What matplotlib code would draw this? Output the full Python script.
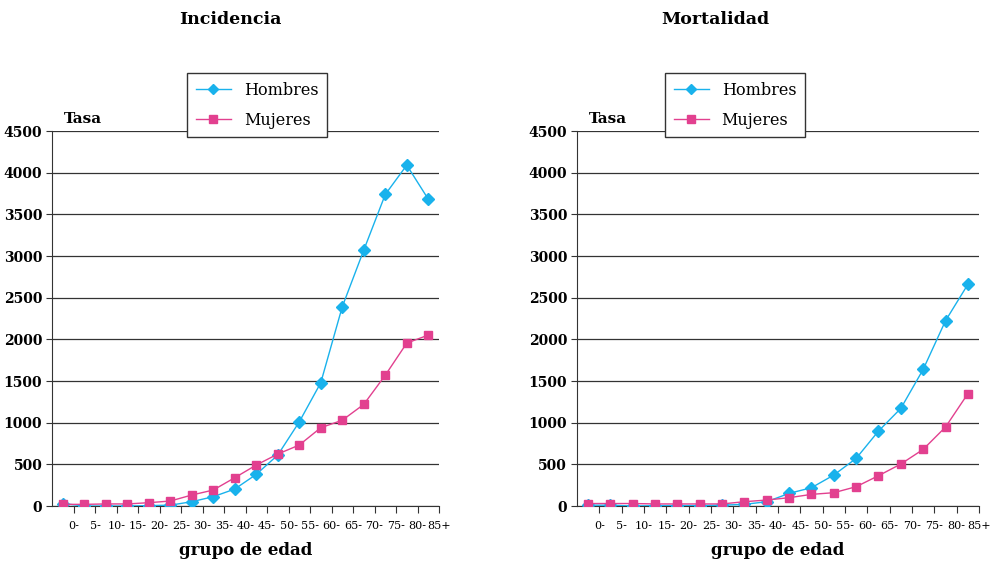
import numpy as np
import matplotlib
matplotlib.use('Agg')
import matplotlib.pyplot as plt

# age groups
grupos = ['0-', '5-', '10-', '15-', '20-', '25-', '30-', '35-', '40-', '45-',
          '50-', '55-', '60-', '65-', '70-', '75-', '80-', '85+']

# incidence rates
inc_hombres = [30, 0, 0, 0, 5, 10, 52, 112, 204, 380, 612, 1010, 1480, 2392,
               3072, 3740, 4092, 3684]
inc_mujeres = [20, 20, 25, 25, 40, 60, 132, 192, 340, 492, 624, 732, 940, 1030,
               1220, 1570, 1956, 2052]

# mortality rates
mort_hombres = [10, 10, 0, 5, 5, 5, 10, 20, 52, 152, 220, 372, 572, 900,
                1172, 1640, 2224, 2660]
mort_mujeres = [30, 30, 30, 25, 25, 25, 25, 52, 72, 100, 140, 160, 232, 364,
                504, 680, 948, 1348]

titulos = ['Incidencia', 'Mortalidad']
yticks = np.arange(0, 4501, 500)

c_h = '#19b2ec'
c_m = '#e2408f'

plt.rcParams['font.family'] = 'DejaVu Serif'

fig = plt.figure(figsize=(9.91, 5.62), dpi=100)
ax1 = fig.add_axes([0.0525, 0.0996, 0.3905, 0.667])
ax2 = fig.add_axes([0.5822, 0.0996, 0.4057, 0.667])

x = np.arange(len(grupos))
datos = [(inc_hombres, inc_mujeres), (mort_hombres, mort_mujeres)]
tit_x = [0.232, 0.722]
leg_x = [0.1887, 0.671]

for i, ax in enumerate([ax1, ax2]):
    h, m = datos[i]
    ax.plot(x, h, color=c_h, lw=1, marker='D', ms=6, label='Hombres', zorder=3)
    ax.plot(x, m, color=c_m, lw=1, marker='s', ms=6, label='Mujeres', zorder=3)
    ax.set_xlim(-0.5, 17.5)
    ax.set_ylim(0, 4500)
    ax.set_yticks(yticks)
    ax.set_yticklabels([str(v) for v in yticks], fontsize=10, fontweight='bold')
    # labels sit on the group boundaries, as in the original
    ax.set_xticks(x + 0.5)
    ax.set_xticklabels(grupos, fontsize=8)
    ax.tick_params(axis='x', length=5, pad=6, color='#333333')
    ax.tick_params(axis='y', length=4, pad=3, color='#333333')
    ax.grid(axis='y', color='#333333', lw=0.9)
    ax.set_axisbelow(True)
    for s in ['top', 'right']:
        ax.spines[s].set_visible(False)
    for s in ['left', 'bottom']:
        ax.spines[s].set_color('#333333')
    ax.set_xlabel('grupo de edad', fontsize=12, fontweight='bold', labelpad=8)
    ax.text(0.03, 1.022, 'Tasa', transform=ax.transAxes, fontsize=11,
            fontweight='bold')
    fig.text(tit_x[i], 0.965, titulos[i], fontsize=12.5, fontweight='bold',
             ha='center', va='center')
    fig.legend(handles=ax.get_lines(), loc='upper left',
               bbox_to_anchor=(leg_x[i], 0.870), borderaxespad=0,
               fontsize=11.5, fancybox=False, edgecolor='#333333',
               framealpha=1, handlelength=2.2, markerscale=0.9,
               borderpad=0.55, labelspacing=0.8)

plt.savefig('out.png', dpi=100)
